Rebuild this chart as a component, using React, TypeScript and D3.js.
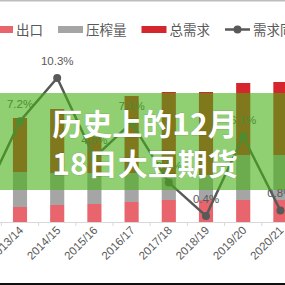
import React, { useRef, useEffect } from 'react';
import * as d3 from 'd3';

// marketing years (first one sits just off the left edge)
const years = ['2012/13', '2013/14', '2014/15', '2015/16', '2016/17', '2017/18', '2018/19', '2019/20', '2020/21'];
// stacked segments, bottom to top
const exportVals = [7, 7.5, 8.5, 9, 10, 11, 11, 11, 11];
const crushVals = [16, 17.5, 16, 15.5, 14.5, 12.5, 12.5, 22.5, 22.5];
const demandVals = [25, 27, 32, 18, 38.5, 41.5, 41.5, 36, 36.5];
// 需求同比, %
const yoyVals = [1.6, 7.2, 10.3, 4.6, 7.1, 2.8, 0.4, 6.1, 0.8];

const legendItems = [
  { name: '出口', color: '#e8656d', type: 'bar' },
  { name: '压榨量', color: '#a5a5a5', type: 'bar' },
  { name: '总需求', color: '#d4262c', type: 'bar' },
  { name: '需求同比', color: '#595959', type: 'line' },
];

const W = 285;
const H = 285;

function App() {
  const svgRef = useRef(null);

  useEffect(() => {
    const svg = d3.select(svgRef.current);
    svg.selectAll('*').remove();

    const base = 222;
    const x = d3.scaleBand().domain(years).range([-35.8, 299]).paddingInner(0.62).paddingOuter(0.31);
    const y = d3.scaleLinear().domain([0, 80]).range([base, 62]);
    const y2 = d3.scaleLinear().domain([0, 12]).range([221.6, 54.3]);

    svg.append('rect').attr('width', W).attr('height', H).attr('fill', '#fff');

    // stacked bars
    const rows = years.map((yr, i) => ({ year: yr, exp: exportVals[i], crush: crushVals[i], dem: demandVals[i] }));
    const stack = d3.stack().keys(['exp', 'crush', 'dem'])(rows);
    const colors = ['#e8656d', '#a5a5a5', '#d4262c'];
    stack.forEach((layer, li) => {
      svg.append('g')
        .selectAll('rect')
        .data(layer)
        .enter()
        .append('rect')
        .attr('x', (d) => x(d.data.year))
        .attr('width', x.bandwidth())
        .attr('y', (d) => y(d[1]))
        .attr('height', (d) => y(d[0]) - y(d[1]))
        .attr('fill', colors[li]);
    });

    // x axis
    svg.append('line').attr('x1', 0).attr('x2', W).attr('y1', base + 0.5).attr('y2', base + 0.5)
      .attr('stroke', '#d9d9d9');
    const step = x.step();
    years.forEach((yr) => {
      const tx = x(yr) + x.bandwidth() / 2 + step / 2;
      svg.append('line').attr('x1', tx).attr('x2', tx).attr('y1', base).attr('y2', base + 4)
        .attr('stroke', '#d9d9d9');
    });
    svg.append('g')
      .selectAll('text')
      .data(years)
      .enter()
      .append('text')
      .attr('transform', (d) => `translate(${x(d) + x.bandwidth() / 2 + 4},${base + 9}) rotate(-45)`)
      .attr('text-anchor', 'end')
      .attr('font-family', 'Liberation Sans, Arial, sans-serif')
      .attr('font-size', '11.5px')
      .attr('fill', '#595959')
      .text((d) => d);

    // line
    const cx = (i) => x(years[i]) + x.bandwidth() / 2;
    const line = d3.line().x((d, i) => cx(i)).y((d) => y2(d));
    svg.append('path').datum(yoyVals).attr('d', line).attr('fill', 'none')
      .attr('stroke', '#595959').attr('stroke-width', 2.5);
    svg.append('g').selectAll('circle').data(yoyVals).enter().append('circle')
      .attr('cx', (d, i) => cx(i)).attr('cy', (d) => y2(d)).attr('r', 4).attr('fill', '#595959');
    svg.append('g').selectAll('text').data(yoyVals).enter().append('text')
      .attr('x', (d, i) => cx(i)).attr('y', (d) => y2(d) - 13)
      .attr('text-anchor', 'middle')
      .attr('font-family', 'Liberation Sans, Arial, sans-serif')
      .attr('font-size', '11.5px')
      .attr('fill', '#595959')
      .text((d) => d.toFixed(1) + '%');

    // legend
    const lg = svg.append('g').attr('transform', 'translate(-12,0)');
    let lx = 0;
    legendItems.forEach((it) => {
      if (it.type === 'bar') {
        lg.append('rect').attr('x', lx).attr('y', 26).attr('width', 25).attr('height', 7).attr('fill', it.color);
      } else {
        lg.append('line').attr('x1', lx).attr('x2', lx + 25).attr('y1', 29.5).attr('y2', 29.5)
          .attr('stroke', it.color).attr('stroke-width', 2.5);
        lg.append('circle').attr('cx', lx + 12.5).attr('cy', 29.5).attr('r', 4).attr('fill', it.color);
      }
      const t = lg.append('text').attr('x', lx + 28).attr('y', 35)
        .attr('font-family', 'Noto Sans CJK SC, sans-serif')
        .attr('font-size', '13.5px')
        .attr('fill', '#595959')
        .text(it.name);
      lx += 28 + it.name.length * 13.5 + 15;
    });

    // frame lines
    svg.append('rect').attr('x', 0).attr('y', 0).attr('width', W).attr('height', 1.5).attr('fill', '#bdbdbd');
    svg.append('rect').attr('x', 0).attr('y', 283).attr('width', W).attr('height', 2).attr('fill', '#111');

    // green banner with title
    svg.append('rect').attr('x', 0).attr('y', 93).attr('width', W).attr('height', 97)
      .attr('fill', 'rgb(70,175,20)').attr('fill-opacity', 0.6);
    const title = ['历史上的12月', '18日大豆期货'];
    svg.append('g').selectAll('text').data(title).enter().append('text')
      .attr('x', 145)
      .attr('y', (d, i) => 135 + i * 40)
      .attr('text-anchor', 'middle')
      .attr('font-family', 'Noto Sans CJK SC, sans-serif')
      .attr('font-weight', 700)
      .attr('font-size', '30px')
      .attr('fill', '#fff')
      .attr('stroke', 'rgba(0,0,0,0.12)')
      .attr('stroke-width', 1)
      .attr('paint-order', 'stroke')
      .text((d) => d);
  }, []);

  return (
    <svg ref={svgRef} width={W} height={H}
      style={{ position: 'fixed', left: 0, top: 0, display: 'block' }} />
  );
}

export default App;
